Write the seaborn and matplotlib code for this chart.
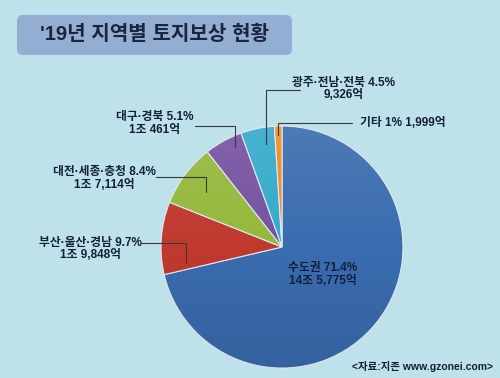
import matplotlib
matplotlib.use('Agg')
import matplotlib.pyplot as plt
import seaborn as sns
import numpy as np
from matplotlib.patches import FancyBboxPatch, Circle

# Data
regions = ['수도권', '부산·울산·경남', '대전·세종·충청', '대구·경북', '광주·전남·전북', '기타']
shares = [71.4, 9.7, 8.4, 5.1, 4.5, 1.0]
share_labels = ['71.4%', '9.7%', '8.4%', '5.1%', '4.5%', '1%']
amounts = ['14조 5,775억', '1조 9,848억', '1조 7,114억', '1조 461억', '9,326억', '1,999억']
colors = ['#3a6cb0', '#c0392f', '#94b83c', '#7652a0', '#35aacb', '#f28a1e']

title = "'19년 지역별 토지보상 현황"
source = '<자료:지존 www.gzonei.com>'

sns.set_style('white')
# latin digits and the middle dot from a latin font, hangul from the CJK font
plt.rcParams['font.family'] = ['Liberation Sans', 'Noto Sans CJK KR', 'DejaVu Sans']

W, H = 500, 378
bg = '#bfe1ea'
ink = '#14203a'
wt = 'heavy'

fig = plt.figure(figsize=(5, 3.78), dpi=100, facecolor=bg)
ax = fig.add_axes([0, 0, 1, 1])
ax.set_facecolor(bg)

def Y(y):
    return H - y

# pie, in pixel coordinates (y measured from top)
cx, cy, R = 282, 247, 121
wedges, _ = ax.pie(shares, colors=colors, startangle=90, counterclock=False,
                   center=(cx, Y(cy)), radius=R, frame=True,
                   wedgeprops=dict(edgecolor='#dfe9f2', linewidth=0.8))

# soft top-to-bottom shading over the pie
grad = np.linspace(1, -1, 256).reshape(-1, 1)
shade = np.zeros((256, 1, 4))
shade[..., :3] = np.where(grad[..., None] > 0, 1.0, 0.0)
shade[..., 3] = np.abs(grad) * 0.10
im = ax.imshow(shade, extent=(cx - R, cx + R, Y(cy + R), Y(cy - R)),
               aspect='auto', zorder=3, interpolation='bilinear')
im.set_clip_path(Circle((cx, Y(cy)), R, transform=ax.transData))

# label layout: text centre x, first-line y, leader y, leader start x,
# position inside wedge (0..1 clockwise), radius fraction
layout = {
    1: (90, 243, 243, 141, 0.11, 0.80),
    2: (104, 172, 177, 156, 0.47, 0.77),
    3: (155, 117, 126, 195, 0.70, 0.91),
    4: (344, 83, 90, 300, 0.67, 0.86),
    5: (None, 123, 123, 352, 0.40, 0.93),
}

fs = 8.5
for i, (tx, ty, ly, lx, frac, rf) in layout.items():
    w = wedges[i]
    ang = np.deg2rad(w.theta2 - frac * (w.theta2 - w.theta1))
    px = cx + rf * R * np.cos(ang)
    py = Y(cy) + rf * R * np.sin(ang)
    ax.plot([lx, px, px], [Y(ly), Y(ly), py], color='#3a3a3a', lw=0.8, zorder=4)
    if tx is None:
        ax.text(360, Y(ty), f'{regions[i]} {share_labels[i]} {amounts[i]}',
                ha='left', va='center', fontsize=fs, fontweight=wt, color=ink)
    else:
        ax.text(tx, Y(ty), f'{regions[i]} {share_labels[i]}', ha='center',
                va='center', fontsize=fs, fontweight=wt, color=ink)
        ax.text(tx, Y(ty + 12.5), amounts[i], ha='center', va='center',
                fontsize=fs, fontweight=wt, color=ink)

# label inside the big slice
ax.text(323, Y(268), f'{regions[0]} {share_labels[0]}', ha='center', va='center',
        fontsize=fs, fontweight=wt, color=ink, zorder=5)
ax.text(323, Y(281), amounts[0], ha='center', va='center',
        fontsize=fs, fontweight=wt, color=ink, zorder=5)

# title box
ax.add_patch(FancyBboxPatch((17, Y(55)), 275, 40,
                            boxstyle='round,pad=0,rounding_size=6',
                            fc='#94add3', ec='none', zorder=2))
ax.text(154, Y(34), title, ha='center', va='center', fontsize=14.5,
        fontweight=wt, color='#1a2540', zorder=3)

ax.text(493, Y(367), source, ha='right', va='center', fontsize=7.5,
        fontweight='bold', color=ink)

ax.set_xlim(0, W)
ax.set_ylim(0, H)
ax.set_aspect('auto')
ax.axis('off')

fig.savefig('out.png', dpi=100, facecolor=bg)
